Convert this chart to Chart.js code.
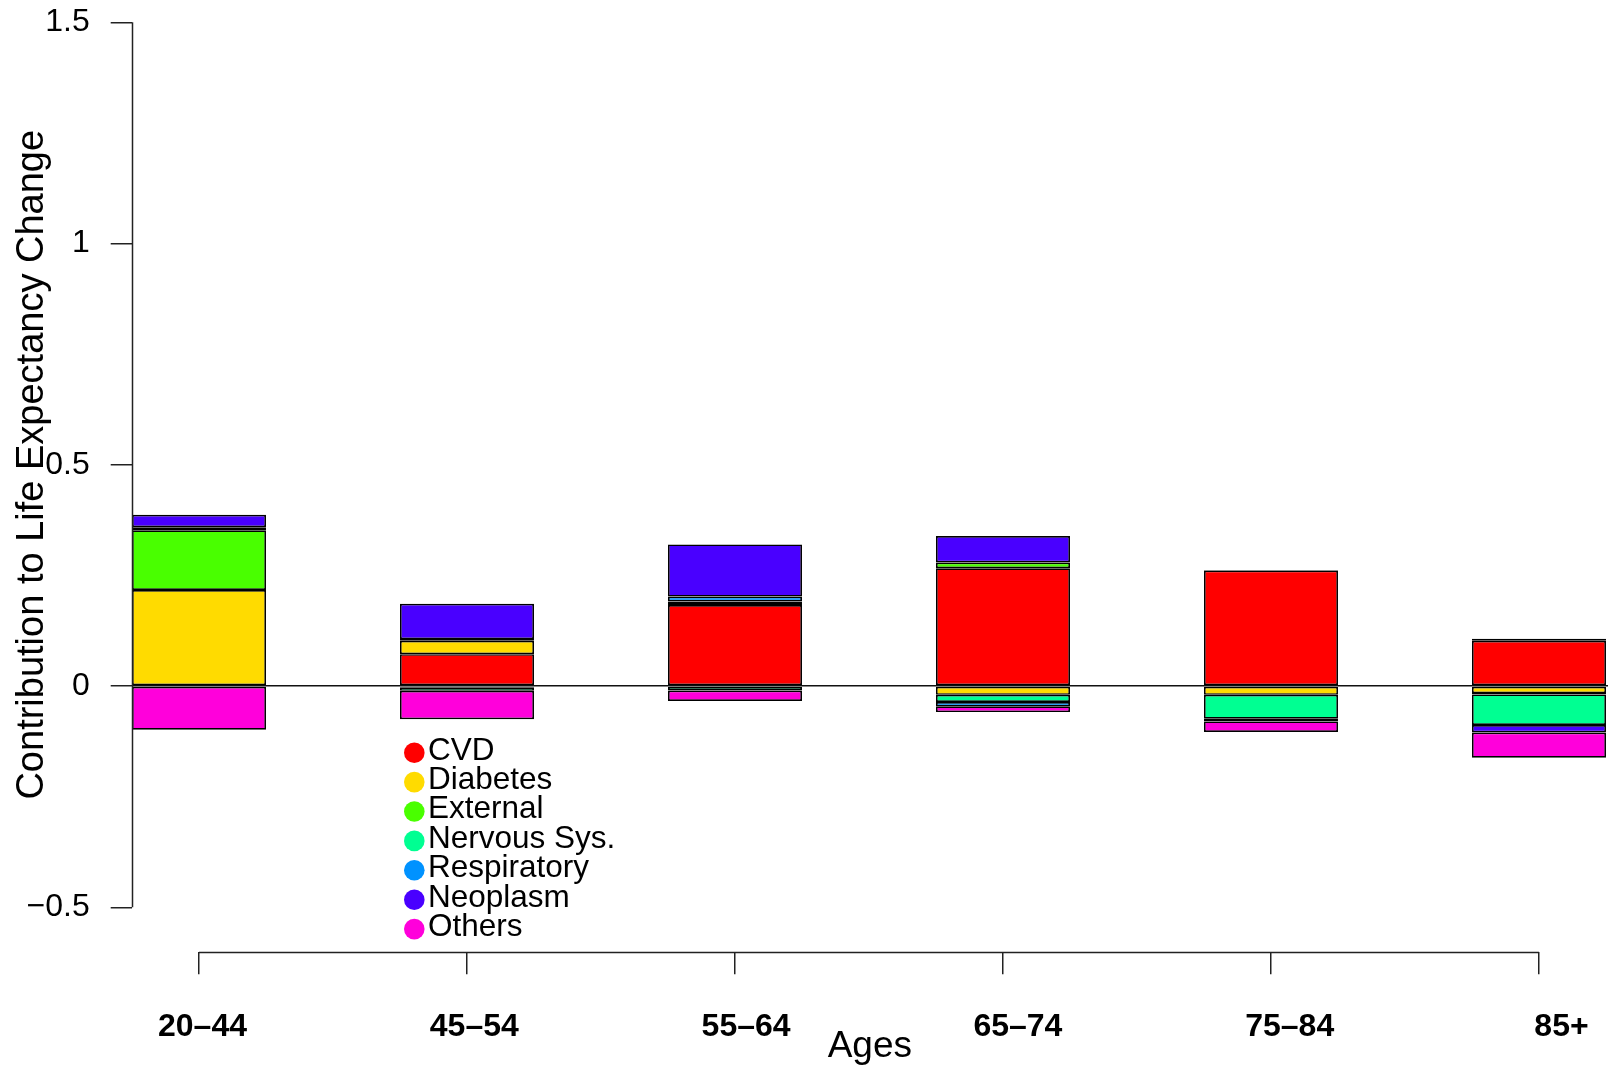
<!DOCTYPE html>
<html>
<head>
<meta charset="utf-8">
<title>Contribution to Life Expectancy Change by Age</title>
<script src="https://cdn.jsdelivr.net/npm/chart.js@4/dist/chart.umd.min.js"></script>
<style>
  html, body { margin: 0; padding: 0; background: #fff; overflow: hidden; }
  #wrap { position: relative; width: 1608px; height: 1065px; }
</style>
</head>
<body>
<div id="wrap"><canvas id="chart"></canvas></div>
<script>
// Age groups (x categories)
const ageGroups = ['20–44', '45–54', '55–64', '65–74', '75–84', '85+'];

// Causes of death, in stacking order
const causes = ['CVD', 'Diabetes', 'External', 'Nervous Sys.', 'Respiratory', 'Neoplasm', 'Others'];
const causeColors = ['#FF0000', '#FFDB00', '#49FF00', '#00FF92', '#0092FF', '#4900FF', '#FF00DB'];

// Contribution of each cause to the life expectancy change, per age group
const cvd         = [-0.002, 0.072, 0.183, 0.266, 0.261, 0.102];
const diabetes    = [ 0.217, 0.030, -0.002, -0.020, -0.020, -0.016];
const external    = [ 0.135, -0.003, 0.008, 0.013, 0.001, -0.003];
const nervous     = [ 0.003, -0.008, -0.008, -0.016, -0.054, -0.069];
const respiratory = [ 0.004, 0.004, 0.011, -0.010, -0.003, 0.005];
const neoplasm    = [ 0.028, 0.080, 0.118, 0.060, -0.003, -0.017];
const others      = [-0.097, -0.064, -0.024, -0.013, -0.024, -0.057];

// Y axis tick values and titles
const yTicks = [-0.5, 0, 0.5, 1, 1.5];
const yTitle = 'Contribution to Life Expectancy Change';
const xTitle = 'Ages';

const seriesValues = [cvd, diabetes, external, nervous, respiratory, neoplasm, others];

const FONT = '"Liberation Sans", Arial, Helvetica, sans-serif';
Chart.defaults.font.family = FONT;
Chart.defaults.color = '#000';

const datasets = causes.map((name, k) => ({
  label: name,
  data: seriesValues[k].map((v, i) => ({ x: i, y: v })),
  backgroundColor: causeColors[k],
  borderColor: '#000',
  borderWidth: 1.7,
  borderSkipped: false,
  stack: 'all',
  categoryPercentage: 0.5,
  barPercentage: 1.0
}));

// Draws the R-style axis lines, the rotated y title and the point legend
const decorations = {
  id: 'decorations',
  afterDraw(chart) {
    const { ctx, chartArea } = chart;
    const xs = chart.scales.x, ys = chart.scales.y;
    ctx.save();
    ctx.strokeStyle = '#222';
    ctx.lineWidth = 1.5;
    // y axis line spanning the tick range
    const ax = Math.round(chartArea.left) + 0.5;
    ctx.beginPath();
    ctx.moveTo(ax, ys.getPixelForValue(yTicks[yTicks.length - 1]));
    ctx.lineTo(ax, ys.getPixelForValue(yTicks[0]));
    ctx.stroke();
    // x axis line spanning first to last category
    const ay = Math.round(chartArea.bottom) + 0.5;
    ctx.beginPath();
    ctx.moveTo(xs.getPixelForValue(0), ay);
    ctx.lineTo(xs.getPixelForValue(ageGroups.length - 1), ay);
    ctx.stroke();

    // rotated y title, centred on the middle of the tick range
    ctx.fillStyle = '#000';
    ctx.font = '38px ' + FONT;
    ctx.textAlign = 'center';
    ctx.textBaseline = 'alphabetic';
    ctx.translate(43, ys.getPixelForValue((yTicks[0] + yTicks[yTicks.length - 1]) / 2));
    ctx.rotate(-Math.PI / 2);
    ctx.fillText(yTitle, 0, 0);
    ctx.restore();

    // legend with filled circles
    ctx.save();
    const lg = { x: 414.3, y: 752.7, step: 29.4, r: 10.3, textX: 428, textDy: 6.8 };
    ctx.font = '31.5px ' + FONT;
    ctx.textAlign = 'left';
    ctx.textBaseline = 'alphabetic';
    chart.data.datasets.forEach((ds, i) => {
      const cy = lg.y + i * lg.step;
      ctx.fillStyle = ds.backgroundColor;
      ctx.beginPath();
      ctx.arc(lg.x, cy, lg.r, 0, Math.PI * 2);
      ctx.fill();
      ctx.fillStyle = '#000';
      ctx.fillText(ds.label, lg.textX, cy + lg.textDy);
    });
    ctx.restore();
  }
};

new Chart(document.getElementById('chart'), {
  type: 'bar',
  data: { datasets },
  plugins: [decorations],
  options: {
    responsive: true,
    maintainAspectRatio: false,
    animation: false,
    devicePixelRatio: 1,
    layout: { padding: 0, autoPadding: false },
    plugins: { legend: { display: false }, tooltip: { enabled: false } },
    scales: {
      // category positions: bars and tick marks
      x: {
        type: 'linear',
        position: 'bottom',
        weight: 0,
        stacked: true,
        offset: false,
        min: -0.2511,
        max: 5.2575,
        border: { display: false },
        grid: {
          offset: false,
          drawOnChartArea: false,
          drawTicks: true,
          tickLength: 22,
          tickColor: '#222',
          lineWidth: 1.5
        },
        ticks: {
          display: false,
          stepSize: 1,
          includeBounds: false,
          autoSkip: false
        },
        afterFit: (s) => {
          s.height = 22;
          s.paddingLeft = 0;
          s.paddingRight = 0;
        }
      },
      // age group labels and axis title
      xLabels: {
        type: 'linear',
        position: 'bottom',
        weight: 1,
        offset: false,
        min: -0.2605,
        max: 5.1711,
        border: { display: false },
        grid: { display: false, offset: false },
        ticks: {
          stepSize: 1,
          includeBounds: false,
          autoSkip: false,
          maxRotation: 0,
          padding: 26,
          font: { size: 32, weight: 'bold' },
          color: '#000',
          callback: (v) => ageGroups[v] ?? ''
        },
        title: {
          display: true,
          text: xTitle,
          font: { size: 37, lineHeight: 1 },
          color: '#000',
          padding: { top: 0, bottom: 0 }
        },
        afterFit: (s) => {
          s.height = 90.7;
          s.paddingLeft = 0;
          s.paddingRight = 0;
        }
      },
      y: {
        type: 'linear',
        stacked: true,
        min: -0.6018,
        max: 1.5503,
        border: { display: false },
        grid: {
          drawOnChartArea: true,
          drawTicks: true,
          tickLength: 21,
          tickColor: '#222',
          lineWidth: 1.5,
          color: (c) => (c.tick && c.tick.value === 0 ? '#111' : 'rgba(0,0,0,0)')
        },
        ticks: {
          padding: 21,
          font: { size: 32 },
          color: '#000',
          callback: (v) => (v < 0 ? '\u2212' + Math.abs(v) : String(v))
        },
        afterBuildTicks: (s) => { s.ticks = yTicks.map((v) => ({ value: v })); },
        afterFit: (s) => {
          s.width = 131.7;
          s.paddingTop = 0;
          s.paddingBottom = 0;
        }
      }
    }
  }
});
</script>
</body>
</html>
